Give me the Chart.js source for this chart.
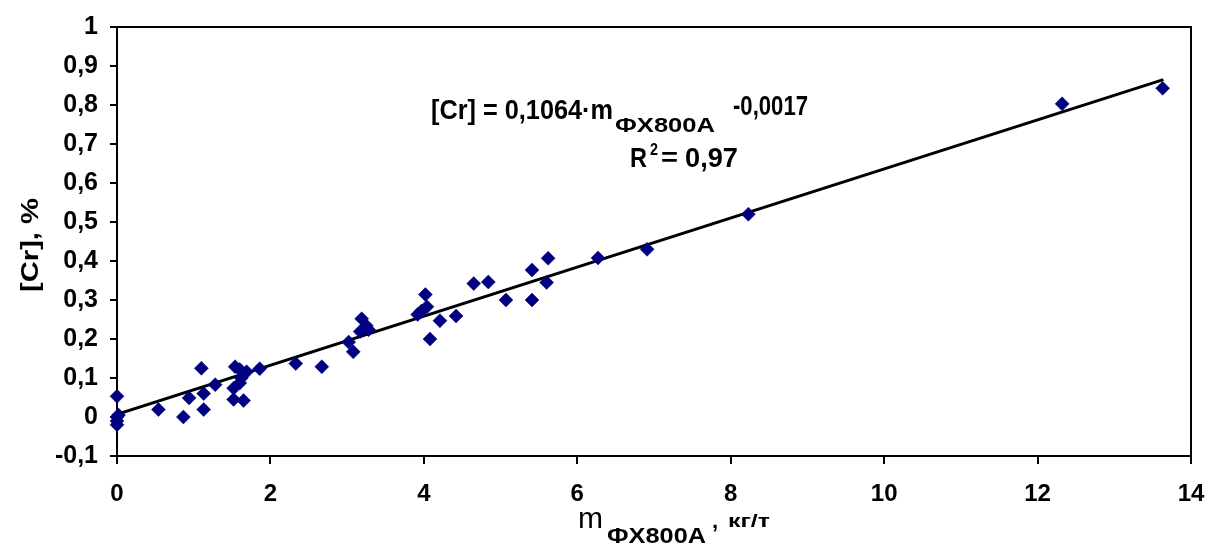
<!DOCTYPE html>
<html><head><meta charset="utf-8">
<script src="https://cdn.jsdelivr.net/npm/chart.js@4.4.0/dist/chart.umd.min.js"></script>
<style>html,body{margin:0;padding:0;background:#fff}canvas{display:block}</style>
</head><body>
<canvas id="c" width="1209" height="546"></canvas>
<script>
// FX800A addition, kg/t
const massFX800A = [0, 0, 0, 0, 0.02, 0.54, 0.865, 0.94, 1.10, 1.13, 1.13, 1.28, 1.54, 1.60, 1.69, 1.86,
  1.52, 1.60, 1.62, 1.52, 1.65, 2.33, 2.67, 3.02, 3.08, 3.19, 3.25, 3.17, 3.28, 4.02, 4.04, 3.92, 3.97,
  4.08, 4.21, 4.42, 4.65, 4.84, 5.07, 5.41, 5.41, 5.60, 5.62, 6.27, 6.91, 8.23, 12.32, 13.63];
// [Cr], %
const chromium = [0.053, 0.0, -0.01, -0.02, 0.005, 0.019, 0.0, 0.049, 0.125, 0.06, 0.019, 0.083, 0.129, 0.122, 0.116, 0.124,
  0.074, 0.087, 0.10, 0.045, 0.042, 0.137, 0.129, 0.192, 0.167, 0.252, 0.234, 0.219, 0.224, 0.314, 0.283, 0.263, 0.272,
  0.200, 0.247, 0.259, 0.342, 0.346, 0.300, 0.377, 0.300, 0.345, 0.407, 0.408, 0.43, 0.52, 0.803, 0.843];
// linear trend end points
const trendX = [0, 13.64];
const trendY = [0.007, 0.865];
const xTickLabels = ['0', '2', '4', '6', '8', '10', '12', '14'];
const yTickLabels = ['-0,1', '0', '0,1', '0,2', '0,3', '0,4', '0,5', '0,6', '0,7', '0,8', '0,9', '1'];

const pts = massFX800A.map((x, i) => ({x: x, y: chromium[i]}));
const trend = trendX.map((x, i) => ({x: x, y: trendY[i]}));
const FONT = '"Liberation Sans", Arial, sans-serif';

const frame = {
  id: 'frame',
  beforeDatasetsDraw(chart) {
    const {ctx, chartArea: a} = chart;
    ctx.save();
    ctx.strokeStyle = '#000';
    ctx.lineWidth = 2;
    ctx.strokeRect(a.left, a.top, a.right - a.left, a.bottom - a.top);
    ctx.restore();
  },
  afterDraw(chart) {
    const ctx = chart.ctx;
    ctx.save();
    ctx.fillStyle = '#000';
    ctx.textBaseline = 'alphabetic';
    ctx.textAlign = 'left';
    // draw text fitted horizontally into [x0,x1], with given font size and vertical stretch
    function t(str, x0, x1, y, font, sy) {
      ctx.save();
      ctx.font = font;
      const w = ctx.measureText(str).width;
      ctx.translate(x0, y);
      ctx.scale(x1 ? (x1 - x0) / w : 1, sy || 1);
      ctx.fillText(str, 0, 0);
      ctx.restore();
    }
    // equation
    t('[Cr] = 0,1064·m', 431, 613, 119, 'bold 23px ' + FONT, 1.2);
    t('ФХ800А', 615, 715, 132, 'bold 21px ' + FONT, 1.0);
    t('-0,0017', 733, 808, 115, 'bold 23px ' + FONT, 1.2);
    t('R', 630, 647, 167, 'bold 23px ' + FONT, 1.2);
    t('2', 650, 658, 155, 'bold 15px ' + FONT, 1.1);
    t('=', 661, 678, 166, 'bold 23px ' + FONT, 1.1);
    t('0,97', 685, 738, 167, 'bold 23px ' + FONT, 1.2);
    // x title
    t('m', 578, 603, 528, '29px ' + FONT, 1.0);
    t('ФХ800А', 607, 706, 543, 'bold 22px ' + FONT, 1.0);
    t(',', 712, 0, 528, 'bold 22px ' + FONT, 1.0);
    t('кг/т', 728, 770, 527, 'bold 18px ' + FONT, 1.0);
    // y title
    ctx.save();
    ctx.font = 'bold 23px ' + FONT;
    const tw = ctx.measureText('[Cr], %').width;
    ctx.translate(38, 245);
    ctx.rotate(-Math.PI / 2);
    ctx.scale(94 / tw, 1);
    ctx.textAlign = 'center';
    ctx.fillText('[Cr], %', 0, 0);
    ctx.restore();
    ctx.restore();
  }
};

new Chart(document.getElementById('c'), {
  data: {
    datasets: [
      {type: 'scatter', data: pts, pointStyle: 'rectRot', pointRadius: 7, pointHoverRadius: 7,
       backgroundColor: '#000080', borderColor: '#000080', pointBorderWidth: 0.5, clip: false, order: 1},
      {type: 'line', data: trend, borderColor: '#000', borderWidth: 3, pointRadius: 0, fill: false, order: 2}
    ]
  },
  options: {
    responsive: false,
    animation: false,
    events: [],
    layout: {padding: {top: 20, right: 18, left: 0, bottom: 0}},
    plugins: {legend: {display: false}, tooltip: {enabled: false}},
    scales: {
      x: {
        type: 'linear', min: 0, max: 14,
        afterFit(s) { s.height = 90; s.paddingRight = 0; s.paddingLeft = 0; },
        ticks: {stepSize: 2, color: '#000', padding: 16, maxRotation: 0,
          font: {family: FONT, size: 24, weight: 'bold'},
          callback: (v, i) => xTickLabels[i]},
        grid: {drawOnChartArea: false, tickLength: 8, color: '#000', lineWidth: 2},
        border: {display: false}
      },
      y: {
        type: 'linear', min: -0.1, max: 1,
        afterFit(s) { s.width = 117; },
        ticks: {stepSize: 0.1, color: '#000', padding: 12,
          font: {family: FONT, size: 25, weight: 'bold'},
          callback: (v, i) => yTickLabels[i]},
        grid: {drawOnChartArea: false, tickLength: 7, color: '#000', lineWidth: 2},
        border: {display: false}
      }
    }
  },
  plugins: [frame]
});
</script>
</body></html>
